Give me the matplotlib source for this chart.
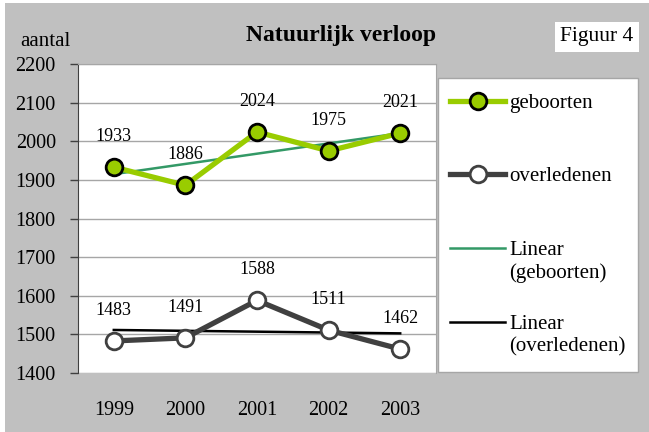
import numpy as np
import matplotlib.pyplot as plt
from matplotlib.patches import Rectangle
from matplotlib.lines import Line2D

plt.rcParams['font.family'] = ['Liberation Serif', 'DejaVu Serif']

years = ['1999', '2000', '2001', '2002', '2003']
geboorten = [1933, 1886, 2024, 1975, 2021]
overledenen = [1483, 1491, 1588, 1511, 1462]
y_ticks = [1400, 1500, 1600, 1700, 1800, 1900, 2000, 2100, 2200]
legend_labels = ['geboorten', 'overledenen', 'Linear\n(geboorten)', 'Linear\n(overledenen)']

W, H = 649, 432
GREEN = '#99cc00'
DARK = '#404040'
TREND_GREEN = '#339966'
BG = '#c0c0c0'

fig = plt.figure(figsize=(W / 100, H / 100), dpi=100, facecolor='white')

# grey chart area (small white margin at top/left like the original)
fig.patches.append(Rectangle((5 / W, 0), 1 - 5 / W, 1 - 3 / H,
                             transform=fig.transFigure, facecolor=BG,
                             edgecolor='none', zorder=-10))

def px(x0, y0, x1, y1):
    return [x0 / W, 1 - y1 / H, (x1 - x0) / W, (y1 - y0) / H]

ax = fig.add_axes(px(78, 64, 436, 373))
ax.set_facecolor('white')

x = np.arange(len(years))

# trend lines (least squares fit, like Excel's "Linear" trendline)
for series, col in [(geboorten, TREND_GREEN), (overledenen, 'black')]:
    k, b = np.polyfit(x, series, 1)
    ax.plot(x, k * x + b, color=col, lw=1.8, zorder=3)

ax.plot(x, geboorten, color=GREEN, lw=3.8, marker='o', ms=12,
        mfc=GREEN, mec='black', mew=2, zorder=4)
ax.plot(x, overledenen, color=DARK, lw=3.8, marker='o', ms=12,
        mfc='white', mec=DARK, mew=2, zorder=4)

for series in (geboorten, overledenen):
    for xi, v in zip(x, series):
        ax.annotate(str(v), (xi, v), xytext=(0, 22), textcoords='offset points',
                    ha='center', va='center', fontsize=13)

ax.set_xlim(-0.5, len(years) - 0.5)
ax.set_ylim(1400, 2200)
ax.set_yticks(y_ticks)
ax.set_xticks(x)
ax.set_xticklabels(years)
ax.tick_params(axis='x', length=0, pad=20, labelsize=14.5)
ax.tick_params(axis='y', length=6, width=1, color=DARK, pad=10, labelsize=14.5)
ax.grid(axis='y', color='#a6a6a6', lw=1)
ax.set_axisbelow(True)
for s in ('top', 'right'):
    ax.spines[s].set_color('#a6a6a6')
ax.spines['bottom'].set_visible(False)
ax.spines['left'].set_color(DARK)

fig.text(341 / W, 1 - 36 / H, 'Natuurlijk verloop', ha='center', va='center',
         fontsize=17, fontweight='bold')
fig.text(20 / W, 1 - 42 / H, 'aantal', ha='left', va='center', fontsize=15)
fig.text(597 / W, 1 - 37 / H, 'Figuur 4', ha='center', va='center', fontsize=15.5,
         bbox=dict(boxstyle='square,pad=0.25', facecolor='white', edgecolor='none'))

# legend box drawn by hand so that the handle sits on the first text line
fig.patches.append(Rectangle((438 / W, 1 - 372 / H), 200 / W, 294 / H,
                             transform=fig.transFigure, facecolor='white',
                             edgecolor='#a6a6a6', lw=1, zorder=1))
styles = [
    dict(color=GREEN, lw=3.8, marker='o', ms=12, mfc=GREEN, mec='black', mew=2),
    dict(color=DARK, lw=3.8, marker='o', ms=12, mfc='white', mec=DARK, mew=2),
    dict(color=TREND_GREEN, lw=1.8),
    dict(color='black', lw=1.8),
]
rows = [101, 174, 248, 322]
for label, st, yy in zip(legend_labels, styles, rows):
    yf = 1 - yy / H
    fig.add_artist(Line2D([450 / W, 477.5 / W, 505 / W], [yf] * 3,
                          transform=fig.transFigure, markevery=[1], zorder=2, **st))
    fig.text(509 / W, 1 - (yy - 7) / H, label, ha='left', va='top', fontsize=15,
             linespacing=1.2, zorder=2)

fig.savefig('out.png', dpi=100, facecolor=fig.get_facecolor())
